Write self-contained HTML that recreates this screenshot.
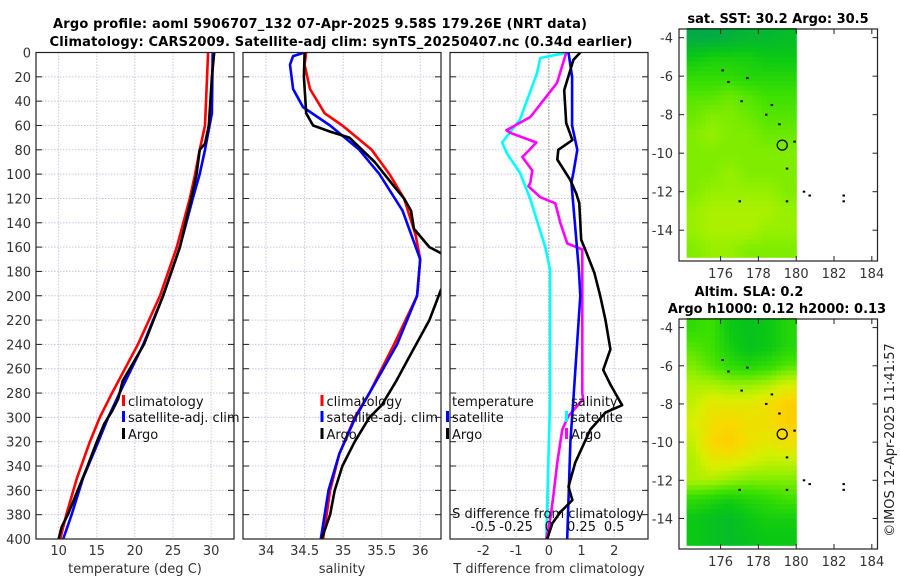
<!DOCTYPE html>
<html><head><meta charset="utf-8"><style>
html,body{margin:0;padding:0;background:#fff;}
svg{display:block;font-family:"DejaVu Sans","Liberation Sans",sans-serif;}
</style></head><body>
<svg id="chart" width="900" height="580" viewBox="0 0 900 580" xmlns="http://www.w3.org/2000/svg">
<rect width="900" height="580" fill="#fff"/>
<text x="320" y="28" font-size="13" font-weight="bold" text-anchor="middle" textLength="534">Argo profile: aoml 5906707_132 07-Apr-2025 9.58S 179.26E (NRT data)</text>
<text x="341" y="46" font-size="13" font-weight="bold" text-anchor="middle" textLength="583">Climatology: CARS2009. Satellite-adj clim: synTS_20250407.nc (0.34d earlier)</text>
<g id="g"></g>
<text x="778" y="23" font-size="13" font-weight="bold" text-anchor="middle">sat. SST: 30.2 Argo: 30.5</text>
<text x="749" y="296" font-size="13" font-weight="bold" text-anchor="middle">Altim. SLA: 0.2</text>
<text x="777" y="313" font-size="13" font-weight="bold" text-anchor="middle">Argo h1000: 0.12 h2000: 0.13</text>
<text transform="translate(894,440) rotate(-90)" font-size="13" fill="#222" text-anchor="middle">©IMOS 12-Apr-2025 11:41:57</text>
</svg>
<script>
// ---- data ----
const tempClimDepth=[0,60,80,100,120,160,200,240,280,300,320,350,380,400];
const tempClim=[29.6,29.2,28.5,27.9,27.2,25.5,23.3,20.4,17.0,15.4,14.1,12.4,11.0,10.2];
const tempSatDepth=[0,50,80,100,120,160,200,240,280,300,320,350,380,400];
const tempSat=[30.2,30.1,29.2,28.5,27.6,25.9,23.7,21.1,18.0,16.5,15.2,13.2,11.7,10.6];
const tempArgoDepth=[0,20,60,75,80,100,120,160,200,240,270,285,295,305,320,340,360,380,390,400];
const tempArgo=[30.4,30.1,29.7,29.2,28.5,28.1,27.4,25.9,23.7,21.2,18.4,17.8,17.0,16.0,15.0,13.8,12.5,11.2,10.4,10.0];

const salClimDepth=[0,10,30,50,60,80,100,120,150,170,200,240,280,300,330,360,400];
const salClim=[34.52,34.5,34.57,34.76,34.99,35.37,35.6,35.79,35.94,36.0,35.96,35.66,35.34,35.15,34.95,34.83,34.74];
const salSatDepth=[0,3,10,30,45,60,80,100,130,170,200,240,280,300,330,360,400];
const salSat=[34.5,34.35,34.31,34.35,34.48,34.83,35.21,35.47,35.77,36.0,35.96,35.7,35.34,35.16,34.95,34.81,34.71];
const salArgoDepth=[0,20,50,60,65,70,90,110,120,130,145,160,165,180,195,220,250,270,290,300,320,340,360,380,400];
const salArgo=[34.5,34.49,34.52,34.61,34.83,35.08,35.41,35.66,35.79,35.88,35.92,36.12,36.27,36.5,36.27,36.12,35.86,35.69,35.5,35.34,35.15,34.99,34.89,34.83,34.72];

const dTSatDepth=[0,20,60,80,99,107,179,200,285,320,400];
const dTSat=[0.6,0.71,0.71,0.87,0.75,0.69,0.92,0.96,0.75,0.66,0.56];
const dTArgoDepth=[0,6,31,58,72,80,88,105,116,124,154,162,181,200,220,244,261,273,290,296,310,337,357,368,378,387,400];
const dTArgo=[0.96,0.75,0.47,0.53,0.72,0.29,0.26,0.66,0.84,0.93,0.99,1.11,1.39,1.57,1.73,1.88,1.66,1.88,2.24,1.73,1.27,0.81,0.6,0.72,0.35,0.11,-0.05];
const dSSatDepth=[0,4.5,17,55,74,83,99,121,160,179,285,400];
const dSSat=[0.147,-0.065,-0.09,-0.22,-0.357,-0.32,-0.22,-0.14,-0.027,0.01,0.01,-0.02];
const dSArgoDepth=[0,25,53,64,66,74,86,97,107,110,119,124,140,157,162,179,280,285,299,310,337,365,384,400];
const dSArgo=[0.134,0.063,-0.141,-0.324,-0.294,-0.095,-0.202,-0.126,-0.141,-0.156,-0.065,0.05,0.088,0.141,0.256,0.256,0.256,0.263,0.149,0.103,0.065,0.034,0.011,-0.019];

const depthTicks=[0,20,40,60,80,100,120,140,160,180,200,220,240,260,280,300,320,340,360,380,400];
const tempTicks=[10,15,20,25,30];
const salTicks=[34,34.5,35,35.5,36];
const dTTicks=[-2,-1,0,1,2];
const dSTicks=[-0.5,-0.25,0,0.25,0.5];
const dSTickLabels=["-0.5","-0.25","0","0.25","0.5"];

const mapLats=[-4,-5,-6,-7,-8,-9,-10,-11,-12,-13,-14,-15];
const mapLons=[174.5,175.5,176.5,177.5,178.5,179.5];
const sstGrid=[
[0.1,0.1,0.15,0.2,0.2,0.25],[0.35,0.4,0.4,0.4,0.35,0.35],[0.5,0.5,0.5,0.45,0.45,0.45],
[0.6,0.6,0.65,0.6,0.55,0.55],[0.65,0.7,0.7,0.65,0.6,0.6],[0.7,0.75,0.7,0.7,0.65,0.65],
[0.7,0.7,0.7,0.7,0.7,0.7],[0.7,0.7,0.75,0.7,0.7,0.7],[0.7,0.75,0.75,0.75,0.75,0.7],
[0.75,0.8,0.8,0.8,0.8,0.75],[0.75,0.8,0.8,0.8,0.75,0.75],[0.7,0.75,0.75,0.7,0.7,0.7]];
const slaGrid=[
[0.5,0.55,0.35,0.3,0.35,0.45],[0.6,0.55,0.4,0.3,0.35,0.45],[0.7,0.6,0.5,0.45,0.5,0.6],
[0.8,0.8,0.75,0.75,0.8,0.9],[0.85,0.95,0.95,0.95,1.0,1.1],[0.9,1.0,1.05,1.0,1.0,1.1],
[0.85,1.05,1.1,1.0,0.95,1.0],[0.8,0.95,0.95,0.9,0.85,0.85],[0.8,0.8,0.75,0.7,0.7,0.7],
[0.5,0.45,0.4,0.45,0.5,0.55],[0.35,0.3,0.25,0.35,0.4,0.4],[0.35,0.3,0.25,0.3,0.35,0.35]];
const latTicks=[-4,-6,-8,-10,-12,-14];
const lonTicks=[176,178,180,182,184];
const islandLon=[176.1,176.4,177.1,177.4,178.4,178.7,179.1,179.5,179.9,177.0,179.5,180.4,180.7,182.5,182.5];
const islandLat=[-5.7,-6.3,-7.3,-6.1,-8.0,-7.5,-8.5,-10.8,-9.4,-12.5,-12.5,-12.0,-12.2,-12.5,-12.2];
const argoLon=179.26, argoLat=-9.58;

// ---- drawing ----
const NS="http://www.w3.org/2000/svg";
const G=document.getElementById('g');
function mk(tag,attrs,parent){const e=document.createElementNS(NS,tag);for(const k in attrs)e.setAttribute(k,attrs[k]);(parent||G).appendChild(e);return e;}
const yTop=52.5,yBot=539;
const yD=d=>yTop+(d-0)*(yBot-yTop)/400;
function lin(d0,d1,r0,r1){return v=>r0+(v-d0)*(r1-r0)/(d1-d0);}

const panels=[
 {id:'temp',x0:36,x1:234,sx:lin(7.03,33.0,36,234),ticks:tempTicks,label:'temperature (deg C)'},
 {id:'sal',x0:243,x1:441,sx:lin(33.7,36.27,243,441),ticks:salTicks,label:'salinity'},
 {id:'diff',x0:450,x1:648,sx:lin(-3.02,3.03,450,648),ticks:dTTicks,label:'T difference from climatology'}
];
panels.forEach((p,i)=>{
  const cp=mk('clipPath',{id:'clip'+i});mk('rect',{x:p.x0,y:yTop,width:p.x1-p.x0,height:yBot-yTop},cp);
  // grid
  depthTicks.forEach(d=>{const l=mk('line',{x1:p.x0,x2:p.x1,y1:yD(d),y2:yD(d),stroke:'#c4c8ea','stroke-width':1,'stroke-dasharray':'1.5,1.5'});
    });
  p.ticks.forEach(t=>{const l=mk('line',{x1:p.sx(t),x2:p.sx(t),y1:yTop,y2:yBot,stroke:'#d8c4d8','stroke-width':1,'stroke-dasharray':'1.5,1.5'});
    
    const tk=mk('text',{x:p.sx(t),y:555,'font-size':13,'text-anchor':'middle',fill:'#333'});tk.textContent=String(t);
    });
  depthTicks.forEach(d=>{mk('line',{x1:p.x0,x2:p.x0+6,y1:yD(d),y2:yD(d),stroke:'#222'});mk('line',{x1:p.x1-6,x2:p.x1,y1:yD(d),y2:yD(d),stroke:'#222'});});
  const t=mk('text',{x:(p.x0+p.x1)/2,y:573,'font-size':13,'text-anchor':'middle',fill:'#333'});t.textContent=p.label;
  
});
depthTicks.forEach(d=>{const t=mk('text',{x:31,y:yD(d)+5,'font-size':13,'text-anchor':'end',fill:'#333'});t.textContent=String(d);
  });

function line(pi,depths,vals,color,name,scale){
  const p=panels[pi];const s=scale||p.sx;
  const pts=depths.map((d,k)=>s(vals[k]).toFixed(1)+','+yD(d).toFixed(1)).join(' ');
  const e=mk('polyline',{points:pts,fill:'none',stroke:color,'stroke-width':2.6,'stroke-linejoin':'round','clip-path':'url(#clip'+pi+')'});
  
}
line(0,tempClimDepth,tempClim,'#ff0000','temp-climatology-line');
line(0,tempSatDepth,tempSat,'#0000ff','temp-satellite-line');
line(0,tempArgoDepth,tempArgo,'#000','temp-argo-line');
line(1,salClimDepth,salClim,'#ff0000','sal-climatology-line');
line(1,salSatDepth,salSat,'#0000ff','sal-satellite-line');
line(1,salArgoDepth,salArgo,'#000','sal-argo-line');
const sS=lin(-0.755,0.758,450,648);
// zero line
const z=mk('line',{x1:panels[2].sx(0),x2:panels[2].sx(0),y1:yTop,y2:yBot,stroke:'#556633','stroke-width':1,'stroke-dasharray':'1,2'});

line(2,dSSatDepth,dSSat,'#00ffff','sdiff-satellite-line',sS);
line(2,dSArgoDepth,dSArgo,'#ff00ff','sdiff-argo-line',sS);
line(2,dTSatDepth,dTSat,'#0000ff','tdiff-satellite-line');
line(2,dTArgoDepth,dTArgo,'#000','tdiff-argo-line');
dSTicks.forEach((v,k)=>{const t=mk('text',{x:sS(v),y:531,'font-size':13,'text-anchor':'middle',fill:'#111'});t.textContent=dSTickLabels[k];
  });
{const t=mk('text',{x:548,y:518,'font-size':13,'text-anchor':'middle',fill:'#111'});t.textContent='S difference from climatology';
 }
panels.forEach(p=>{const r=mk('rect',{x:p.x0,y:yTop,width:p.x1-p.x0,height:yBot-yTop,fill:'none',stroke:'#222','stroke-width':1.2});
  });

// legends
function legend(x,y,color,label,name){
  const b=mk('rect',{x:x-6,y:y-11,width:3,height:11,fill:color});
  
  const t=mk('text',{x:x,y:y,'font-size':13,fill:'#111'});t.textContent=label;
  
}
legend(128,406,'#ff0000','climatology','legend-temp-climatology');
legend(128,422,'#0000ff','satellite-adj. clim','legend-temp-satellite');
legend(128,439,'#000','Argo','legend-temp-argo');
legend(326.5,406,'#ff0000','climatology','legend-sal-climatology');
legend(326.5,422,'#0000ff','satellite-adj. clim','legend-sal-satellite');
legend(326.5,439,'#000','Argo','legend-sal-argo');
{const t=mk('text',{x:452,y:406,'font-size':13,fill:'#111'});t.textContent='temperature';}
{const t=mk('text',{x:571,y:406,'font-size':13,fill:'#111'});t.textContent='salinity';}
legend(452,422,'#0000ff','satellite','legend-tdiff-satellite');
legend(452,439,'#000','Argo','legend-tdiff-argo');
legend(571,422,'#00ffff','satellite','legend-sdiff-satellite');
legend(571,439,'#ff00ff','Argo','legend-sdiff-argo');

// maps
const stops=[[0,[0,160,90]],[0.35,[10,200,20]],[0.55,[60,225,0]],[0.75,[150,240,0]],[0.9,[215,240,0]],[1.05,[250,215,0]],[1.2,[255,195,0]]];
function cmap(v){if(v<=stops[0][0])return stops[0][1];for(let i=1;i<stops.length;i++){if(v<=stops[i][0]){const a=stops[i-1],b=stops[i];const f=(v-a[0])/(b[0]-a[0]);return a[1].map((c,k)=>Math.round(c+(b[1][k]-c)*f));}}return stops[stops.length-1][1];}
function sample(grid,lon,lat){
  let fi=(-4-lat); fi=Math.max(0,Math.min(mapLats.length-1,fi));
  let fj=lon-174.5; fj=Math.max(0,Math.min(mapLons.length-1,fj));
  const i0=Math.floor(fi),j0=Math.floor(fj),i1=Math.min(i0+1,mapLats.length-1),j1=Math.min(j0+1,mapLons.length-1);
  const a=fi-i0,b=fj-j0;
  return grid[i0][j0]*(1-a)*(1-b)+grid[i0][j1]*(1-a)*b+grid[i1][j0]*a*(1-b)+grid[i1][j1]*a*b;
}
function drawMap(grid,top,bot,name){
  const x0=679,x1=877.5;
  const sx=lin(173.8,184.3,x0,x1), sy=lin(-3.55,-15.6,top,bot);
  const g=mk('g',{});
  const step=0.25;
  for(let lat=-3.5;lat>-15.5;lat-=step){for(let lon=174.2;lon<180;lon+=step){
    const lonE=Math.min(lon+step,180), latE=Math.max(lat-step,-15.4);
    const c=cmap(sample(grid,lon+step/2,lat-step/2));
    mk('rect',{x:sx(lon).toFixed(1),y:sy(lat).toFixed(1),width:(sx(lonE)-sx(lon)+0.6).toFixed(1),height:(sy(latE)-sy(lat)+0.6).toFixed(1),fill:'rgb('+c.join(',')+')'},g);
  }}
  islandLon.forEach((lo,k)=>{const d=mk('rect',{x:sx(lo)-1,y:sy(islandLat[k])-1,width:2.5,height:2,fill:'#000'});
    });
  const c=mk('circle',{cx:sx(argoLon),cy:sy(argoLat),r:5,fill:'none',stroke:'#000','stroke-width':1.3});
  
  latTicks.forEach(v=>{const y=sy(v);mk('line',{x1:x0,x2:x0+5,y1:y,y2:y,stroke:'#222'});mk('line',{x1:x1-5,x2:x1,y1:y,y2:y,stroke:'#222'});
    const t=mk('text',{x:673,y:y+5,'font-size':13,'text-anchor':'end',fill:'#333'});t.textContent=String(v);
    });
  lonTicks.forEach(v=>{const x=sx(v);mk('line',{x1:x,x2:x,y1:bot-5,y2:bot,stroke:'#222'});mk('line',{x1:x,x2:x,y1:top,y2:top+5,stroke:'#222'});
    const t=mk('text',{x:x,y:bot+17,'font-size':13,'text-anchor':'middle',fill:'#333'});t.textContent=String(v);
    });
  const r=mk('rect',{x:x0,y:top,width:x1-x0,height:bot-top,fill:'none',stroke:'#222','stroke-width':1.2});
  
}
drawMap(sstGrid,29,261,'sst-map');
drawMap(slaGrid,319,549,'sla-map');
</script>
</body></html>
